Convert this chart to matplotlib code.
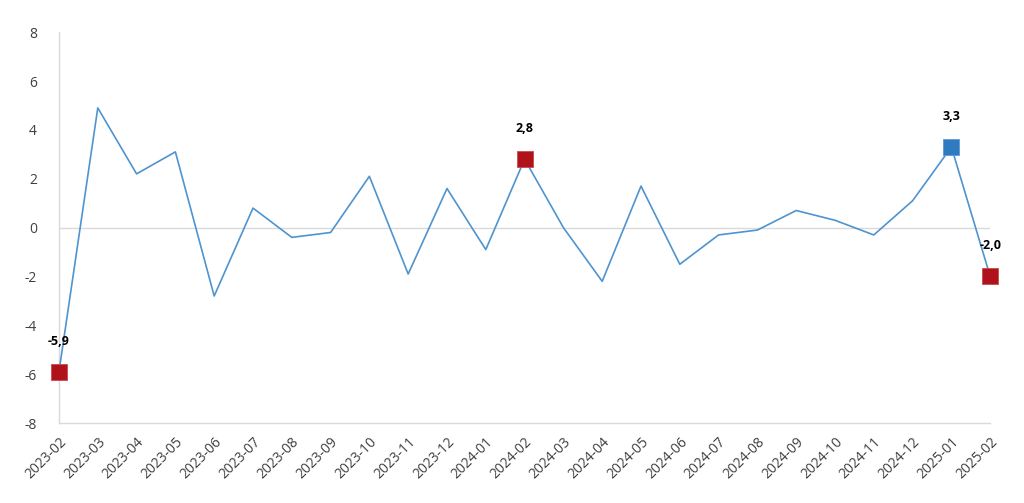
import matplotlib.pyplot as plt
import numpy as np

months = ['2023-02', '2023-03', '2023-04', '2023-05', '2023-06', '2023-07', '2023-08',
          '2023-09', '2023-10', '2023-11', '2023-12', '2024-01', '2024-02', '2024-03',
          '2024-04', '2024-05', '2024-06', '2024-07', '2024-08', '2024-09', '2024-10',
          '2024-11', '2024-12', '2025-01', '2025-02']
values = [-5.9, 4.9, 2.2, 3.1, -2.8, 0.8, -0.4, -0.2, 2.1, -1.9, 1.6, -0.9, 2.8,
          0.0, -2.2, 1.7, -1.5, -0.3, -0.1, 0.7, 0.3, -0.3, 1.1, 3.3, -2.0]

# highlighted points
red_idx = [0, 12, 24]
blue_idx = [23]

plt.rcParams['font.family'] = ['Open Sans', 'DejaVu Sans']
plt.rcParams['axes.unicode_minus'] = False

fig = plt.figure(figsize=(10.24, 5.03), dpi=100)
ax = fig.add_axes([0.0576, 0.159, 0.9094, 0.777])

x = np.arange(len(months))
ax.plot(x, values, color='#4F93CF', linewidth=1.2, zorder=3, clip_on=False)

for i in red_idx:
    ax.plot(x[i], values[i], marker='s', markersize=11, color='#B0121B',
            markeredgecolor='#C94A50', markeredgewidth=0.6, zorder=4, clip_on=False)
for i in blue_idx:
    ax.plot(x[i], values[i], marker='s', markersize=11, color='#2F7BBF',
            markeredgecolor='#5C9AD2', markeredgewidth=0.6, zorder=4, clip_on=False)

for i in red_idx + blue_idx:
    ax.annotate(f'{values[i]:.1f}'.replace('.', ','), (x[i], values[i]),
                xytext=(0, 22), textcoords='offset points', ha='center', va='center',
                fontsize=9, fontweight='bold', color='black', zorder=5)

ax.axhline(0, color='#DADADA', linewidth=1, zorder=1)

ax.set_xlim(0, 24)
ax.set_ylim(-8, 8)
ax.set_yticks(range(-8, 9, 2))
ax.set_xticks(x)
ax.set_xticklabels(months, rotation=45, ha='right', rotation_mode='anchor')

for s in ['top', 'right']:
    ax.spines[s].set_visible(False)
for s in ['left', 'bottom']:
    ax.spines[s].set_color('#DADADA')
    ax.spines[s].set_linewidth(1)

ax.tick_params(axis='both', length=0, labelsize=10, colors='#404040')
ax.tick_params(axis='y', pad=16)
ax.tick_params(axis='x', pad=8)

fig.savefig('out.png', dpi=100)
